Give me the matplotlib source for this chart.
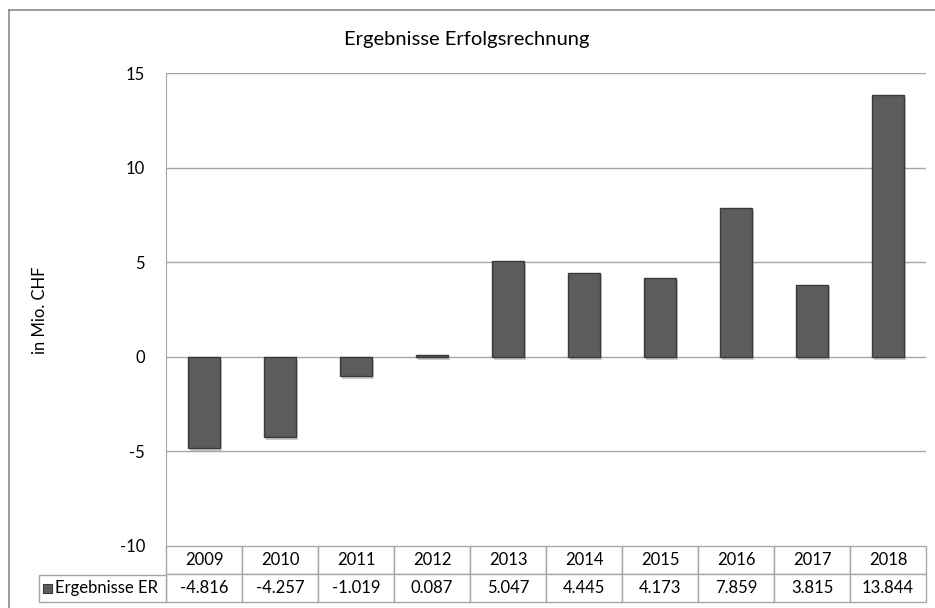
import matplotlib
matplotlib.use("Agg")
import matplotlib.pyplot as plt
import matplotlib.patheffects as pe
from matplotlib.lines import Line2D
from matplotlib.patches import Rectangle

plt.rcParams["font.family"] = ["Lato", "DejaVu Sans"]

years  = ["2009", "2010", "2011", "2012", "2013", "2014", "2015", "2016", "2017", "2018"]
values = [-4.816, -4.257, -1.019, 0.087, 5.047, 4.445, 4.173, 7.859, 3.815, 13.844]
series_name = "Ergebnisse ER"
title = "Ergebnisse Erfolgsrechnung"
ylabel = "in Mio. CHF"
yticks = [-10, -5, 0, 5, 10, 15]

W, H = 935, 608
fig = plt.figure(figsize=(W/100, H/100), dpi=100)
L, R, T, B = 166, 926, 73, 546
ax = fig.add_axes([L/W, 1-B/H, (R-L)/W, (B-T)/H])

grid_c = "#a6a6a6"
x = list(range(len(years)))
bars = ax.bar(x, values, width=0.42, color="#5c5c5c", edgecolor="#3a3a3a", linewidth=1, zorder=3)
for b in bars:
    b.set_path_effects([pe.SimplePatchShadow(offset=(1.5, -2), alpha=0.22), pe.Normal()])

ax.set_xlim(-0.5, len(years)-0.5)
ax.set_ylim(-10, 15)
ax.set_yticks(yticks)
ax.set_yticklabels([str(v) for v in yticks], fontsize=12)
ax.set_xticks([])
ax.tick_params(axis="y", length=0, pad=15)
for v in yticks[1:]:
    ax.axhline(v, color=grid_c, lw=1, zorder=1)
for s in ["top", "right", "bottom"]:
    ax.spines[s].set_visible(False)
ax.spines["left"].set_color(grid_c)

fig.text(40/W, 1-310/H, ylabel, rotation=90, ha="center", va="center", fontsize=12)
fig.text(467/W, 1-40/H, title, ha="center", va="center", fontsize=14.5)

# data table below plot
ph = B - T
rh1, rh2 = 29/ph, 27/ph
tbl = ax.table(cellText=[years, [f"{v:.3f}" for v in values]], cellLoc="center",
               bbox=[0, -(rh1+rh2), 1, rh1+rh2])
tbl.auto_set_font_size(False)
tbl.set_fontsize(12)
for (r, c), cell in tbl.get_celld().items():
    cell.set_edgecolor(grid_c)
    cell.set_linewidth(1)

lw_ax = (L-39)/(R-L)
ax.add_patch(Rectangle((-lw_ax, -(rh1+rh2)), lw_ax, rh2, transform=ax.transAxes,
                       facecolor="white", edgecolor=grid_c, lw=1, clip_on=False))
ax.add_patch(Rectangle((-lw_ax + 4/(R-L), -(rh1+rh2) + 9/ph), 9/(R-L), 9/ph, transform=ax.transAxes,
                       facecolor="#5c5c5c", edgecolor="#3a3a3a", lw=0.8, clip_on=False))
ax.text(-lw_ax + 16/(R-L), -(rh1+rh2) + rh2/2, series_name, transform=ax.transAxes,
        ha="left", va="center", fontsize=12)

# chart border (left and top visible)
fig.add_artist(Line2D([9/W, 9/W], [0, 1-10/H], color="#8c8c8c", lw=1.2))
fig.add_artist(Line2D([9/W, 1], [1-10/H, 1-10/H], color="#8c8c8c", lw=1.2))

fig.savefig("out.png", dpi=100)
